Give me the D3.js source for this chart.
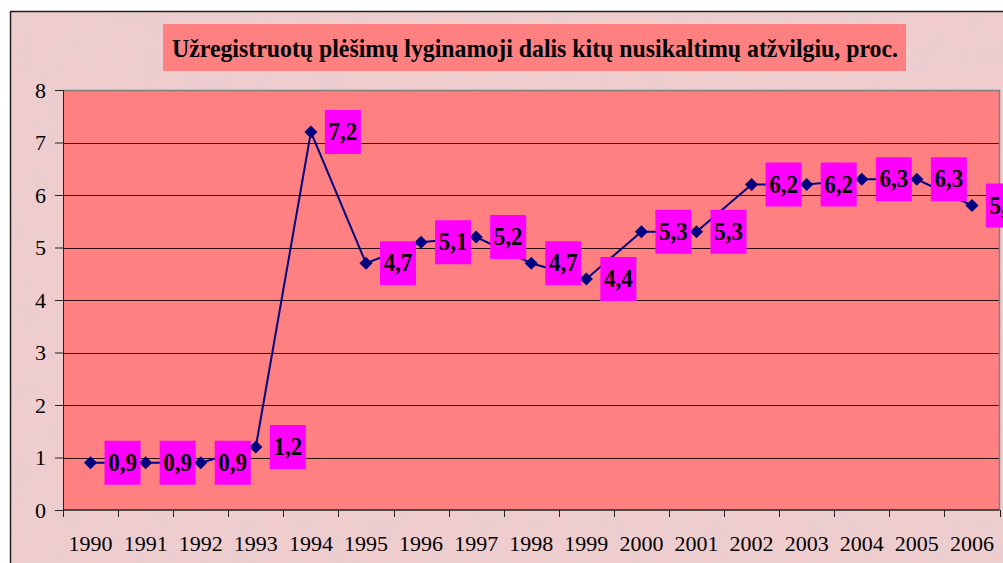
<!DOCTYPE html>
<html>
<head>
<meta charset="utf-8">
<script src="https://cdn.jsdelivr.net/npm/d3@7.9.0/dist/d3.min.js"></script>
<style>
  body { margin: 0; background: #fff; }
  svg { display: block; }
  text { font-family: "Liberation Serif", "Times New Roman", serif; }
</style>
</head>
<body>
<svg id="chart" width="1003" height="563"></svg>
<script>
const years = ['1990', '1991', '1992', '1993', '1994', '1995', '1996', '1997', '1998',
  '1999', '2000', '2001', '2002', '2003', '2004', '2005', '2006'];
const values = [0.9, 0.9, 0.9, 1.2, 7.2, 4.7, 5.1, 5.2, 4.7, 4.4, 5.3, 5.3, 6.2, 6.2, 6.3, 6.3, 5.8];
const yTicks = [0, 1, 2, 3, 4, 5, 6, 7, 8];
const title = 'Užregistruotų plėšimų lyginamoji dalis kitų nusikaltimų atžvilgiu, proc.';

const svg = d3.select('#chart');
const serif = '"Liberation Serif", "Times New Roman", serif';

// textured pink backdrop
const defs = svg.append('defs');
const f = defs.append('filter').attr('id', 'marble')
  .attr('x', 0).attr('y', 0).attr('width', '100%').attr('height', '100%');
f.append('feTurbulence').attr('type', 'fractalNoise')
  .attr('baseFrequency', 0.03).attr('numOctaves', 4).attr('seed', 7).attr('result', 'noise');
f.append('feColorMatrix').attr('in', 'noise').attr('type', 'matrix')
  .attr('values', '0 0 0 0 0.80  0 0 0 0 0.62  0 0 0 0 0.64  0 0 0 -1.6 1.05')
  .attr('result', 'tint');
f.append('feFlood').attr('flood-color', '#f0cccd').attr('result', 'base');
f.append('feComposite').attr('in', 'tint').attr('in2', 'base').attr('operator', 'over');

svg.append('rect')
  .attr('x', 10).attr('y', 11).attr('width', 1003).attr('height', 563)
  .attr('filter', 'url(#marble)');
svg.append('path')
  .attr('d', 'M10.5,563V11.5H1003')
  .attr('fill', 'none').attr('stroke', '#222').attr('stroke-width', 1.5);

// title box
const titleG = svg.append('g');
titleG.append('rect')
  .attr('x', 163).attr('y', 24).attr('width', 743).attr('height', 47)
  .attr('fill', '#ff8080');
titleG.append('text')
  .attr('x', 172).attr('y', 57)
  .attr('font-family', serif)
  .attr('font-weight', 'bold')
  .attr('font-size', 25)
  .attr('textLength', 726)
  .attr('lengthAdjust', 'spacingAndGlyphs')
  .text(title);

const plotL = 63, plotR = 999.5, plotT = 90, plotB = 510;

const x = d3.scaleBand().domain(years).range([plotL, plotR]);
const y = d3.scaleLinear().domain([0, 8]).range([plotB, plotT]);

// plot area
svg.append('rect')
  .attr('x', plotL).attr('y', plotT)
  .attr('width', plotR - plotL).attr('height', plotB - plotT)
  .attr('fill', '#ff8080');

// gridlines
svg.append('g')
  .selectAll('line')
  .data(yTicks.filter(d => d > 0 && d < 8))
  .join('line')
  .attr('x1', plotL).attr('x2', plotR)
  .attr('y1', d => Math.round(y(d)) + 0.5).attr('y2', d => Math.round(y(d)) + 0.5)
  .attr('stroke', '#2a1010').attr('stroke-width', 1);

// plot border (top and right gray)
svg.append('path')
  .attr('d', `M${plotL},${plotT + 0.5}H${plotR}V${plotB}`)
  .attr('fill', 'none').attr('stroke', '#808080').attr('stroke-width', 1.5);

// y axis
const yAxis = svg.append('g')
  .attr('transform', `translate(${plotL},0)`)
  .call(d3.axisLeft(y).tickValues(yTicks).tickSize(8).tickPadding(9).tickFormat(d3.format('d')));
yAxis.attr('font-family', serif);
yAxis.select('.domain').attr('stroke', '#222');
yAxis.selectAll('.tick line').attr('stroke', '#222');
yAxis.selectAll('.tick text')
  .attr('font-size', 22).attr('fill', '#000');

// x axis: ticks on band edges, labels at band centres
const xAxis = svg.append('g').attr('transform', `translate(0,${plotB})`);
xAxis.append('line')
  .attr('x1', plotL).attr('x2', plotR).attr('stroke', '#222').attr('stroke-width', 1.5);
xAxis.selectAll('.edge')
  .data(years.concat(['end']))
  .join('line')
  .attr('class', 'edge')
  .attr('x1', (d, i) => Math.round(plotL + i * x.step()) + 0.5)
  .attr('x2', (d, i) => Math.round(plotL + i * x.step()) + 0.5)
  .attr('y1', 0).attr('y2', 7)
  .attr('stroke', '#222');
xAxis.selectAll('text')
  .data(years)
  .join('text')
  .attr('x', d => x(d) + x.bandwidth() / 2)
  .attr('y', 41)
  .attr('text-anchor', 'middle')
  .attr('font-family', serif)
  .attr('font-size', 22)
  .text(d => d);

// line
const cx = d => x(d) + x.bandwidth() / 2;
const pts = years.map((d, i) => [cx(d), y(values[i])]);

svg.append('path')
  .datum(pts)
  .attr('d', d3.line())
  .attr('fill', 'none')
  .attr('stroke', '#000080')
  .attr('stroke-width', 2);

// markers
svg.append('g')
  .selectAll('path')
  .data(pts)
  .join('path')
  .attr('transform', d => `translate(${d[0]},${d[1]})`)
  .attr('d', d3.symbol(d3.symbolDiamond2, 110)())
  .attr('fill', '#000080');

// data labels
const labels = svg.append('g')
  .selectAll('g')
  .data(pts)
  .join('g')
  .attr('transform', d => `translate(${d[0] + 14},${d[1]})`);
labels.append('rect')
  .attr('x', 0).attr('y', -22).attr('width', 36).attr('height', 44)
  .attr('fill', '#ff00ff');
labels.append('text')
  .attr('transform', 'translate(18,8) scale(1,1.1)')
  .attr('text-anchor', 'middle')
  .attr('font-family', serif)
  .attr('font-weight', 'bold')
  .attr('font-size', 23)
  .text((d, i) => String(values[i]).replace('.', ','));
</script>
</body>
</html>
